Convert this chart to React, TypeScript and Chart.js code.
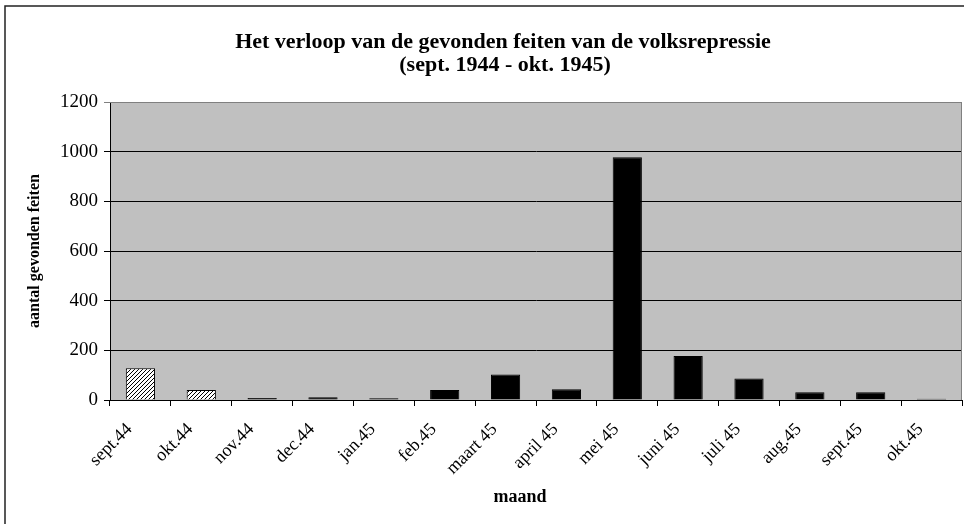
import React, { useEffect, useRef } from "react";
import { Chart, registerables } from "chart.js";

Chart.register(...registerables);

const categories = [
  "sept.44", "okt.44", "nov.44", "dec.44", "jan.45", "feb.45", "maart 45",
  "april 45", "mei 45", "juni 45", "juli 45", "aug.45", "sept.45", "okt.45",
];
const values = [128, 40, 8, 11, 7, 40, 103, 43, 978, 177, 87, 31, 31, 5];
const hatched = [true, true, false, false, false, false, false, false, false, false, false, false, false, false];
const yMin = 0;
const yMax = 1200;
const yStep = 200;
const titleLines = [
  "Het verloop van de gevonden feiten van de volksrepressie",
  "(sept. 1944 - okt. 1945)",
];
const xTitle = "maand";
const yTitle = "aantal gevonden feiten";

const FONT = "'Liberation Serif', 'DejaVu Serif', serif";

function makeHatch(): CanvasPattern | string {
  const c = document.createElement("canvas");
  c.width = 4;
  c.height = 4;
  const g = c.getContext("2d");
  if (!g) return "#fff";
  g.fillStyle = "#ffffff";
  g.fillRect(0, 0, 4, 4);
  g.strokeStyle = "#000000";
  g.lineWidth = 1;
  g.beginPath();
  g.moveTo(-1, 5);
  g.lineTo(5, -1);
  g.moveTo(-1, 1);
  g.lineTo(1, -1);
  g.moveTo(3, 5);
  g.lineTo(5, 3);
  g.stroke();
  const p = g.createPattern(c, "repeat");
  return p || "#fff";
}

export default function App() {
  const ref = useRef<HTMLCanvasElement | null>(null);

  useEffect(() => {
    document.body.style.margin = "0";
    const canvas = ref.current;
    if (!canvas) return;
    const hatch = makeHatch();

    const framePlugin = {
      id: "frame",
      beforeDraw(chart: any) {
        const { ctx, chartArea } = chart;
        ctx.save();
        ctx.fillStyle = "#ffffff";
        ctx.fillRect(0, 0, chart.width, chart.height);
        ctx.fillStyle = "#c0c0c0";
        ctx.fillRect(chartArea.left, chartArea.top, chartArea.right - chartArea.left, chartArea.bottom - chartArea.top);
        ctx.restore();
      },
      afterDraw(chart: any) {
        const { ctx, chartArea } = chart;
        ctx.save();
        ctx.strokeStyle = "#808080";
        ctx.lineWidth = 1;
        ctx.beginPath();
        ctx.moveTo(chartArea.left, chartArea.top + 0.5);
        ctx.lineTo(chartArea.right - 0.5, chartArea.top + 0.5);
        ctx.lineTo(chartArea.right - 0.5, chartArea.bottom);
        ctx.stroke();
        ctx.strokeStyle = "#222";
        ctx.lineWidth = 1.5;
        ctx.beginPath();
        ctx.moveTo(5, chart.height + 2);
        ctx.lineTo(5, 6);
        ctx.lineTo(chart.width + 2, 6);
        ctx.stroke();
        ctx.fillStyle = "#000";
        ctx.textAlign = "center";
        ctx.textBaseline = "alphabetic";
        ctx.font = "bold 22px " + FONT;
        ctx.fillText(titleLines[0], 503, 48);
        ctx.fillText(titleLines[1], 505, 71);
        ctx.font = "bold 18px " + FONT;
        ctx.textBaseline = "middle";
        ctx.fillText(xTitle, 520, 497);
        ctx.restore();
      },
    };

    const chart = new Chart(canvas, {
      type: "bar",
      data: {
        labels: categories,
        datasets: [
          {
            data: values,
            backgroundColor: values.map((_, i) => (hatched[i] ? hatch : "#000000")) as any,
            borderColor: "#000000",
            borderWidth: 1,
            categoryPercentage: 1,
            barPercentage: 0.48,
          },
        ],
      },
      options: {
        animation: false,
        responsive: false,
        maintainAspectRatio: false,
        layout: { padding: { top: 102, left: 0, right: 2, bottom: 0 } },
        plugins: {
          legend: { display: false },
          title: { display: false },
          tooltip: { enabled: false },
        },
        scales: {
          x: {
            grid: {
              display: true,
              drawOnChartArea: false,
              drawTicks: true,
              tickLength: 6,
              color: "#000",
              offset: true,
            },
            border: { display: true, color: "#000", width: 1 },
            ticks: {
              autoSkip: false,
              maxRotation: 45,
              minRotation: 45,
              labelOffset: -11,
              padding: 13,
              color: "#000",
              font: { family: FONT, size: 18 },
            },
            title: { display: false, text: xTitle },
            afterFit(scale: any) {
              scale.height = 124;
            },
          },
          y: {
            min: yMin,
            max: yMax,
            grid: {
              color: (c: any) => (c.tick && c.tick.value === yMax ? "#808080" : "#000"),
              tickLength: 6,
              drawTicks: true,
            },
            border: { display: true, color: "#000", width: 1 },
            ticks: {
              stepSize: yStep,
              padding: 6,
              color: "#000",
              font: { family: FONT, size: 19 },
              callback: (v: any) => String(v),
            },
            title: {
              display: true,
              text: yTitle,
              color: "#000",
              font: { family: FONT, size: 16, weight: "bold" },
              padding: { top: 25, bottom: 0 },
            },
            afterFit(scale: any) {
              scale.width = 110;
            },
          },
        },
      },
      plugins: [framePlugin],
    } as any);

    return () => chart.destroy();
  }, []);

  return <canvas ref={ref} width={964} height={524} style={{ display: "block" }} />;
}
